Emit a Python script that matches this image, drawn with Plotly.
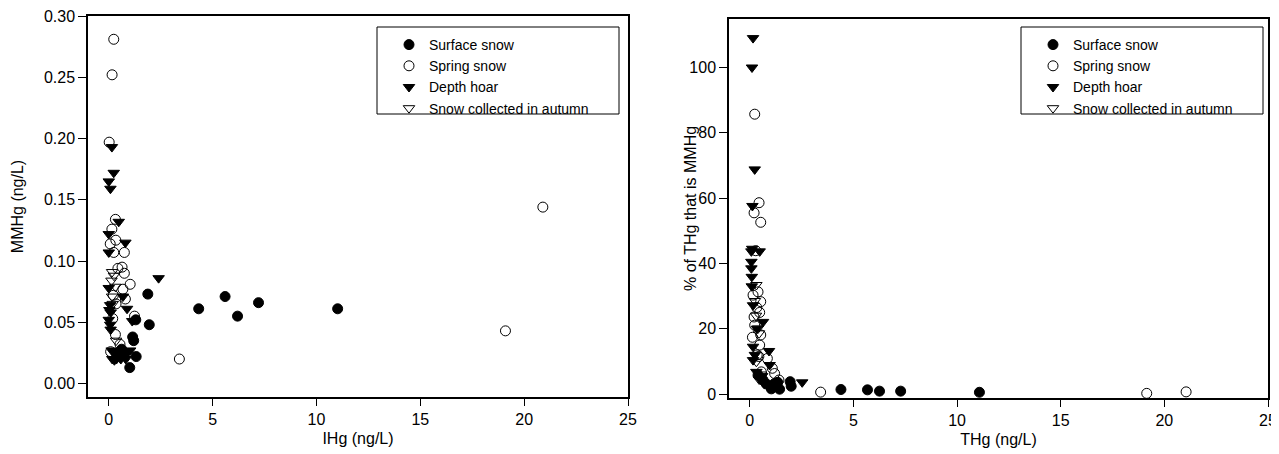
import plotly.graph_objects as go

# ---------------- Left panel: MMHg vs IHg ----------------
surf_ihg = [1.88, 1.95, 4.33, 5.60, 6.20, 7.21, 11.02, 1.15, 1.20, 1.32, 1.01, 1.30, 0.38, 0.62, 0.78]
surf_mmhg = [0.073, 0.048, 0.061, 0.071, 0.055, 0.066, 0.061, 0.038, 0.035, 0.022, 0.013, 0.052, 0.024, 0.028, 0.025]

spring_ihg = [0.24, 0.16, 0.02, 0.32, 0.15, 0.34, 0.07, 0.24, 0.75, 0.64, 0.44, 0.75, 1.03, 0.68, 0.80,
              1.24, 0.19, 0.32, 0.54, 0.09, 3.40, 19.10, 20.90, 0.35, 0.22]
spring_mmhg = [0.281, 0.252, 0.197, 0.134, 0.126, 0.117, 0.114, 0.107, 0.107, 0.095, 0.094, 0.090, 0.081, 0.077, 0.069,
               0.055, 0.053, 0.040, 0.032, 0.026, 0.020, 0.043, 0.144, 0.065, 0.072]

hoar_ihg = [0.15, 0.24, 0.00, 0.08, 0.48, 0.00, 0.80, 0.00, 2.40, 0.00, 0.68, 0.07, 0.88, 0.03, 0.09,
            1.13, 0.07, 0.09, 0.14, 1.03, 0.17, 0.37, 0.58, 0.82, 0.27, 0.00]
hoar_mmhg = [0.193, 0.172, 0.165, 0.159, 0.132, 0.122, 0.115, 0.107, 0.086, 0.078, 0.071, 0.064, 0.061, 0.060, 0.058,
             0.051, 0.048, 0.044, 0.027, 0.027, 0.020, 0.020, 0.020, 0.020, 0.019, 0.052]

autumn_ihg = [0.16, 0.13, 0.32, 0.16, 0.19, 0.35, 0.40, 0.25]
autumn_mmhg = [0.091, 0.084, 0.079, 0.071, 0.065, 0.035, 0.025, 0.088]

# ---------------- Right panel: % MMHg vs THg ----------------
surf_thg = [1.95, 2.00, 4.40, 5.68, 6.26, 7.28, 11.08, 1.19, 1.24, 1.44, 1.04, 0.40, 0.64, 0.80, 1.35]
surf_pct = [3.8, 2.4, 1.4, 1.3, 0.9, 0.9, 0.55, 3.2, 2.3, 1.5, 1.6, 5.8, 4.3, 3.1, 3.6]

spring_thg = [0.24, 0.45, 0.21, 0.53, 0.29, 0.16, 0.40, 0.53, 0.48, 0.21, 0.24, 0.53, 0.13, 0.48, 0.36,
              0.85, 1.09, 0.56, 1.20, 1.41, 3.42, 19.15, 21.05, 0.34, 0.44]
spring_pct = [85.7, 58.6, 55.5, 52.6, 43.9, 30.3, 31.3, 28.3, 25.0, 23.6, 21.1, 18.1, 17.4, 15.0, 12.0,
              10.9, 7.9, 6.8, 6.3, 4.3, 0.6, 0.22, 0.68, 26.5, 11.5]

hoar_thg = [0.16, 0.11, 0.24, 0.13, 0.08, 0.48, 0.08, 0.08, 0.10, 0.16, 0.64, 0.16, 0.93, 0.16, 0.96,
            0.32, 2.53, 0.10, 0.50, 0.70, 0.90, 1.10, 0.35, 0.25, 0.12, 0.60]
hoar_pct = [109.0, 100.0, 68.8, 57.6, 43.7, 43.7, 40.5, 38.5, 35.9, 27.2, 22.1, 14.5, 13.2, 10.4, 8.9,
            6.8, 3.6, 33.0, 4.5, 3.2, 2.4, 1.8, 20.0, 12.0, 44.5, 5.5]

autumn_thg = [0.32, 0.40, 0.45, 0.32, 0.25, 0.30, 0.55, 0.45]
autumn_pct = [33.4, 20.1, 18.6, 9.9, 28.5, 24.0, 6.0, 4.5]

names = ["Surface snow", "Spring snow", "Depth hoar", "Snow collected in autumn"]
symbols = ["circle", "circle-open", "triangle-down", "triangle-down-open"]

FONT = "Liberation Sans, Arial, Helvetica, sans-serif"

left_sets = [(surf_ihg, surf_mmhg), (spring_ihg, spring_mmhg), (hoar_ihg, hoar_mmhg), (autumn_ihg, autumn_mmhg)]
right_sets = [(surf_thg, surf_pct), (spring_thg, spring_pct), (hoar_thg, hoar_pct), (autumn_thg, autumn_pct)]

fig = go.Figure()


def marker_for(sym):
    return dict(symbol=sym, size=10, color="black", line=dict(color="black", width=1))


for (xs, ys), nm, sym in zip(left_sets, names, symbols):
    fig.add_trace(go.Scatter(x=xs, y=ys, mode="markers", name=nm, marker=marker_for(sym),
                             xaxis="x", yaxis="y", legend="legend"))
for (xs, ys), nm, sym in zip(right_sets, names, symbols):
    fig.add_trace(go.Scatter(x=xs, y=ys, mode="markers", name=nm, marker=marker_for(sym),
                             xaxis="x2", yaxis="y2", legend="legend2"))

W, H = 1279, 454
PAGE = 8  # page body margin offset of the rendered figure
# plot area (figure pixels) enclosing both panels
ML, MR, MT, MB = 80, 19, 8, 64
PW, PH = W - ML - MR, H - MT - MB


def fx(p):
    return (p - PAGE - ML) / PW


def fy(p):
    return 1 - (p - PAGE - MT) / PH


axis_common = dict(showline=True, linecolor="black", linewidth=1.5, mirror=True, ticks="outside",
                   tickcolor="black", tickwidth=1, showgrid=False, zeroline=False,
                   ticklabeloverflow="allow",
                   tickfont=dict(family=FONT, size=16, color="black"))

fig.update_layout(
    width=W, height=H,
    margin=dict(l=ML, r=MR, t=MT, b=MB, autoexpand=False),
    paper_bgcolor="white", plot_bgcolor="white",
    font=dict(family=FONT, size=15, color="black"),
    xaxis=dict(domain=[0, fx(628)], range=[-1, 25], tickvals=[0, 5, 10, 15, 20, 25], ticklen=7,
               title=dict(text="IHg (ng/L)", font=dict(size=16), standoff=6), anchor="y", **axis_common),
    yaxis=dict(domain=[max(0, fy(397)), 1], range=[-0.011, 0.30], ticklen=8,
               tickvals=[0, 0.05, 0.10, 0.15, 0.20, 0.25, 0.30], tickformat=".2f",
               title=dict(text="MMHg (ng/L)", font=dict(size=16), standoff=16), anchor="x", **axis_common),
    xaxis2=dict(domain=[fx(729), 1], range=[-1, 25], tickvals=[0, 5, 10, 15, 20, 25], ticklen=7,
                title=dict(text="THg (ng/L)", font=dict(size=16), standoff=6), anchor="y2", **axis_common),
    yaxis2=dict(domain=[0, fy(18.5)], range=[-1.2, 115], tickvals=[0, 20, 40, 60, 80, 100], ticklen=8,
                anchor="x2", **axis_common),
    annotations=[
        dict(text="% of THg that is MMHg", textangle=-90, xref="paper", yref="paper",
             x=fx(690), y=fy(208), xanchor="center", yanchor="middle", showarrow=False,
             font=dict(family=FONT, size=16, color="black")),
    ],
    legend=dict(x=fx(389), y=fy(29), xanchor="left", yanchor="top", bgcolor="rgba(0,0,0,0)",
                borderwidth=0, font=dict(family=FONT, size=14, color="black"), itemwidth=30),
    legend2=dict(x=fx(1033), y=fy(29), xanchor="left", yanchor="top", bgcolor="rgba(0,0,0,0)",
                 borderwidth=0, font=dict(family=FONT, size=14, color="black"), itemwidth=30),
    shapes=[
        dict(type="rect", xref="paper", yref="paper", x0=fx(377), x1=fx(619), y0=fy(114), y1=fy(27),
             line=dict(color="black", width=1), fillcolor="rgba(0,0,0,0)", layer="below"),
        dict(type="rect", xref="paper", yref="paper", x0=fx(1021), x1=fx(1263), y0=fy(114), y1=fy(27),
             line=dict(color="black", width=1), fillcolor="rgba(0,0,0,0)", layer="below"),
    ],
)

fig.write_html("out.html")
